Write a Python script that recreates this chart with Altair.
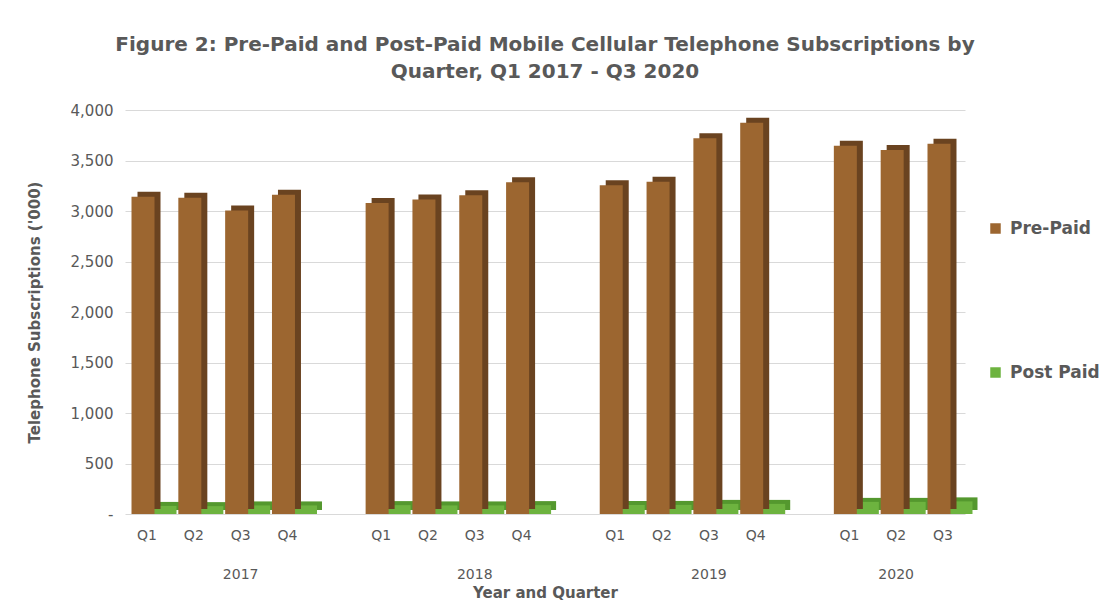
import altair as alt
import pandas as pd

years = ["2017", "2018", "2019", "2020"]
quarters_by_year = [["Q1", "Q2", "Q3", "Q4"], ["Q1", "Q2", "Q3", "Q4"],
                    ["Q1", "Q2", "Q3", "Q4"], ["Q1", "Q2", "Q3"]]
pre_paid = [3140, 3130, 3005, 3160, 3080, 3115, 3155, 3285,
            3255, 3290, 3720, 3875, 3645, 3605, 3665]
post_paid = [80, 78, 85, 85, 88, 85, 85, 88,
             88, 90, 100, 100, 120, 120, 125]
series_names = ["Pre-Paid", "Post Paid"]
y_ticks = [0, 500, 1000, 1500, 2000, 2500, 3000, 3500, 4000]

BROWN, BROWN_DARK = "#9C6630", "#6A4320"
GREEN, GREEN_DARK = "#6DB33F", "#54982E"
TXT = "#595959"

# slots: quarters of each year plus an empty slot between years
slots, centers, rows = [], [], []
k = 0
for i, (yr, qs) in enumerate(zip(years, quarters_by_year)):
    year_slots = [f"{yr}|{q}" for q in qs]
    if i < len(years) - 1:
        year_slots.append(f"{yr}|")
    slots += year_slots
    centers.append(year_slots[len(year_slots) // 2])
    for q in qs:
        rows.append({"slot": f"{yr}|{q}", "series": series_names[0], "value": pre_paid[k]})
        rows.append({"slot": f"{yr}|{q}", "series": series_names[1], "value": post_paid[k]})
        k += 1
df = pd.DataFrame(rows)

center_list = "[" + ",".join(f"'{c}'" for c in centers) + "]"
label_expr = (f"indexof({center_list}, datum.value) >= 0 ? "
              "[split(datum.value,'|')[1], split(datum.value,'|')[0]] : "
              "split(datum.value,'|')[1]")

x_enc = alt.X("slot:N", scale=alt.Scale(domain=slots, paddingInner=0.06, paddingOuter=0),
              sort=slots,
              axis=alt.Axis(title="Year and Quarter", labelExpr=label_expr, labelAngle=0,
                            labelLineHeight=39, labelPadding=14, labelFontSize=14,
                            labelColor=TXT, ticks=False, domain=False,
                            titleFontSize=15, titleFontWeight="bold", titleColor=TXT,
                            titlePadding=4))
y_enc = alt.Y("value:Q", scale=alt.Scale(domain=[0, 4000], nice=False),
              axis=alt.Axis(title="Telephone Subscriptions ('000)", values=y_ticks,
                            labelExpr="datum.value == 0 ? '-' : format(datum.value, ',')",
                            labelFontSize=15, labelColor=TXT, labelPadding=12,
                            ticks=False, domain=False, gridColor="#D9D9D9",
                            titleFontSize=15, titleFontWeight="bold", titleColor=TXT,
                            titlePadding=28))

base = alt.Chart(df)
SHIFT = {"Pre-Paid": -4, "Post Paid": 18}
DEPTH = {"Pre-Paid": 6, "Post Paid": 5}

def back(series, color):
    d = DEPTH[series]
    return base.transform_filter(alt.datum.series == series).mark_bar(
        width=23, xOffset=SHIFT[series] + d, yOffset=-d + 1, color=color
    ).encode(x=x_enc, y=y_enc)

def front(series):
    return base.transform_filter(alt.datum.series == series).mark_bar(
        width=23, xOffset=SHIFT[series]
    ).encode(
        x=x_enc, y=y_enc,
        color=alt.Color("series:N", scale=alt.Scale(domain=series_names, range=[BROWN, GREEN]),
                        legend=alt.Legend(title=None, orient="none", legendX=862, legendY=110,
                                          direction="vertical", rowPadding=126,
                                          symbolType="square", symbolSize=110,
                                          symbolStrokeWidth=0, labelFontSize=17,
                                          labelFontWeight="bold", labelColor=TXT,
                                          labelOffset=6)))

chart = alt.layer(
    back("Post Paid", GREEN_DARK), front("Post Paid"),
    back("Pre-Paid", BROWN_DARK), front("Pre-Paid"),
).properties(
    width=840, height=404,
    title=alt.TitleParams(
        ["Figure 2: Pre-Paid and Post-Paid Mobile Cellular Telephone Subscriptions by",
         "Quarter, Q1 2017 - Q3 2020"],
        fontSize=20, fontWeight="bold", color=TXT, anchor="middle", offset=21,
        lineHeight=27),
    padding={"left": 117, "top": 102, "right": 140, "bottom": 86},
    autosize="none",
).configure(font="DejaVu Sans").configure_view(stroke=None)

chart.save("out.html", embed_options={"renderer": "svg", "actions": False})
